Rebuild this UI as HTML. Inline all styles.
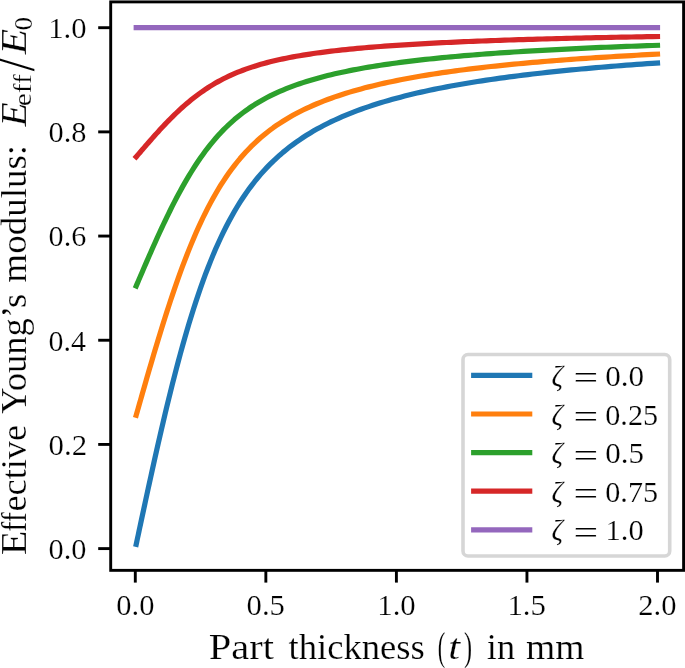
<!DOCTYPE html>
<html lang="en"><head><meta charset="utf-8"><title>Effective Young's modulus vs part thickness</title>
<style>html,body{margin:0;padding:0;background:#fff;overflow:hidden}svg{display:block;will-change:transform}text{font-family:"Liberation Serif","DejaVu Serif",serif;fill:#000}</style></head><body>
<svg width="685" height="668" viewBox="0 0 685 668">
<rect x="0" y="0" width="685" height="668" fill="#fff"/>
<g fill="none" stroke-width="5.2" stroke-linecap="square" stroke-linejoin="round">
<path d="M136.21,544.31 L136.37,543.58 L136.69,542.09 L137.12,540.06 L137.65,537.57 L138.27,534.67 L138.97,531.41 L139.74,527.81 L140.58,523.88 L141.48,519.66 L142.45,515.15 L143.48,510.36 L144.56,505.33 L145.70,500.04 L146.90,494.53 L148.14,488.79 L149.44,482.84 L150.79,476.70 L152.18,470.37 L153.63,463.86 L155.12,457.19 L156.65,450.37 L158.23,443.40 L159.85,436.31 L161.52,429.11 L163.23,421.80 L164.97,414.41 L166.76,406.94 L168.60,399.40 L170.47,391.82 L172.37,384.20 L174.32,376.56 L176.31,368.91 L178.33,361.27 L180.39,353.65 L182.49,346.05 L184.62,338.51 L186.79,331.02 L189.00,323.59 L191.24,316.25 L193.51,309.00 L195.82,301.85 L198.16,294.82 L200.54,287.90 L202.95,281.11 L205.39,274.46 L207.87,267.95 L210.38,261.59 L212.92,255.38 L215.49,249.33 L218.10,243.44 L220.73,237.71 L223.40,232.15 L226.10,226.74 L228.83,221.51 L231.59,216.44 L234.38,211.52 L237.20,206.78 L240.04,202.18 L242.92,197.75 L245.83,193.46 L248.77,189.33 L251.74,185.33 L254.73,181.48 L257.76,177.76 L260.81,174.18 L263.89,170.72 L267.00,167.39 L270.14,164.17 L273.30,161.06 L276.49,158.07 L279.71,155.17 L282.96,152.38 L286.24,149.69 L289.54,147.08 L292.87,144.56 L296.22,142.13 L299.60,139.78 L303.01,137.50 L306.45,135.30 L309.91,133.17 L313.39,131.10 L316.91,129.10 L320.45,127.17 L324.01,125.29 L327.60,123.47 L331.22,121.70 L334.86,119.99 L338.52,118.32 L342.21,116.70 L345.93,115.13 L349.67,113.61 L353.43,112.13 L357.22,110.68 L361.04,109.28 L364.88,107.92 L368.74,106.59 L372.63,105.30 L376.54,104.04 L380.48,102.81 L384.44,101.62 L388.42,100.46 L392.43,99.32 L396.46,98.22 L400.51,97.14 L404.59,96.09 L408.69,95.06 L412.82,94.06 L416.96,93.08 L421.13,92.13 L425.33,91.20 L429.54,90.29 L433.78,89.40 L438.05,88.53 L442.33,87.68 L446.64,86.85 L450.97,86.04 L455.32,85.25 L459.70,84.47 L464.09,83.71 L468.51,82.97 L472.96,82.24 L477.42,81.53 L481.91,80.83 L486.41,80.15 L490.94,79.48 L495.49,78.83 L500.07,78.19 L504.66,77.56 L509.28,76.94 L513.92,76.34 L518.58,75.75 L523.26,75.17 L527.96,74.60 L532.68,74.04 L537.43,73.50 L542.19,72.96 L546.98,72.43 L551.79,71.92 L556.62,71.41 L561.47,70.91 L566.34,70.43 L571.23,69.95 L576.14,69.48 L581.07,69.01 L586.02,68.56 L591.00,68.11 L595.99,67.67 L601.01,67.24 L606.04,66.82 L611.10,66.41 L616.17,66.00 L621.27,65.60 L626.38,65.20 L631.52,64.81 L636.68,64.43 L641.85,64.06 L647.05,63.69 L652.26,63.32 L657.50,62.97" stroke="#1f77b4"/>
<path d="M136.21,415.16 L136.37,414.61 L136.69,413.49 L137.12,411.97 L137.65,410.10 L138.27,407.93 L138.97,405.48 L139.74,402.78 L140.58,399.84 L141.48,396.67 L142.45,393.28 L143.48,389.70 L144.56,385.92 L145.70,381.96 L146.90,377.82 L148.14,373.52 L149.44,369.06 L150.79,364.45 L152.18,359.70 L153.63,354.82 L155.12,349.82 L156.65,344.70 L158.23,339.48 L159.85,334.16 L161.52,328.76 L163.23,323.28 L164.97,317.73 L166.76,312.13 L168.60,306.48 L170.47,300.79 L172.37,295.08 L174.32,289.35 L176.31,283.61 L178.33,277.88 L180.39,272.16 L182.49,266.47 L184.62,260.80 L186.79,255.19 L189.00,249.62 L191.24,244.11 L193.51,238.68 L195.82,233.32 L198.16,228.04 L200.54,222.85 L202.95,217.76 L205.39,212.77 L207.87,207.89 L210.38,203.12 L212.92,198.46 L215.49,193.92 L218.10,189.51 L220.73,185.21 L223.40,181.03 L226.10,176.98 L228.83,173.06 L231.59,169.25 L234.38,165.57 L237.20,162.01 L240.04,158.56 L242.92,155.23 L245.83,152.02 L248.77,148.92 L251.74,145.92 L254.73,143.04 L257.76,140.25 L260.81,137.56 L263.89,134.97 L267.00,132.46 L270.14,130.05 L273.30,127.72 L276.49,125.48 L279.71,123.31 L282.96,121.21 L286.24,119.19 L289.54,117.24 L292.87,115.35 L296.22,113.52 L299.60,111.76 L303.01,110.05 L306.45,108.40 L309.91,106.80 L313.39,105.25 L316.91,103.75 L320.45,102.30 L324.01,100.89 L327.60,99.53 L331.22,98.20 L334.86,96.91 L338.52,95.67 L342.21,94.45 L345.93,93.28 L349.67,92.13 L353.43,91.02 L357.22,89.94 L361.04,88.89 L364.88,87.86 L368.74,86.87 L372.63,85.90 L376.54,84.95 L380.48,84.04 L384.44,83.14 L388.42,82.27 L392.43,81.42 L396.46,80.59 L400.51,79.78 L404.59,78.99 L408.69,78.22 L412.82,77.47 L416.96,76.74 L421.13,76.02 L425.33,75.32 L429.54,74.64 L433.78,73.97 L438.05,73.32 L442.33,72.69 L446.64,72.06 L450.97,71.45 L455.32,70.86 L459.70,70.28 L464.09,69.71 L468.51,69.15 L472.96,68.61 L477.42,68.07 L481.91,67.55 L486.41,67.04 L490.94,66.54 L495.49,66.05 L500.07,65.57 L504.66,65.09 L509.28,64.63 L513.92,64.18 L518.58,63.74 L523.26,63.30 L527.96,62.88 L532.68,62.46 L537.43,62.05 L542.19,61.65 L546.98,61.25 L551.79,60.86 L556.62,60.48 L561.47,60.11 L566.34,59.74 L571.23,59.38 L576.14,59.03 L581.07,58.68 L586.02,58.34 L591.00,58.01 L595.99,57.68 L601.01,57.36 L606.04,57.04 L611.10,56.73 L616.17,56.42 L621.27,56.12 L626.38,55.83 L631.52,55.53 L636.68,55.25 L641.85,54.97 L647.05,54.69 L652.26,54.42 L657.50,54.15" stroke="#ff7f0e"/>
<path d="M136.21,286.01 L136.37,285.64 L136.69,284.89 L137.12,283.88 L137.65,282.63 L138.27,281.19 L138.97,279.56 L139.74,277.75 L140.58,275.79 L141.48,273.68 L142.45,271.42 L143.48,269.03 L144.56,266.51 L145.70,263.87 L146.90,261.11 L148.14,258.24 L149.44,255.27 L150.79,252.20 L152.18,249.03 L153.63,245.78 L155.12,242.44 L156.65,239.03 L158.23,235.55 L159.85,232.01 L161.52,228.40 L163.23,224.75 L164.97,221.05 L166.76,217.32 L168.60,213.55 L170.47,209.76 L172.37,205.95 L174.32,202.13 L176.31,198.31 L178.33,194.49 L180.39,190.67 L182.49,186.88 L184.62,183.10 L186.79,179.36 L189.00,175.65 L191.24,171.98 L193.51,168.35 L195.82,164.78 L198.16,161.26 L200.54,157.80 L202.95,154.41 L205.39,151.08 L207.87,147.83 L210.38,144.65 L212.92,141.54 L215.49,138.52 L218.10,135.57 L220.73,132.71 L223.40,129.92 L226.10,127.22 L228.83,124.60 L231.59,122.07 L234.38,119.61 L237.20,117.24 L240.04,114.94 L242.92,112.72 L245.83,110.58 L248.77,108.51 L251.74,106.52 L254.73,104.59 L257.76,102.73 L260.81,100.94 L263.89,99.21 L267.00,97.54 L270.14,95.93 L273.30,94.38 L276.49,92.88 L279.71,91.44 L282.96,90.04 L286.24,88.69 L289.54,87.39 L292.87,86.13 L296.22,84.92 L299.60,83.74 L303.01,82.60 L306.45,81.50 L309.91,80.43 L313.39,79.40 L316.91,78.40 L320.45,77.43 L324.01,76.49 L327.60,75.58 L331.22,74.70 L334.86,73.84 L338.52,73.01 L342.21,72.20 L345.93,71.42 L349.67,70.65 L353.43,69.91 L357.22,69.19 L361.04,68.49 L364.88,67.81 L368.74,67.14 L372.63,66.50 L376.54,65.87 L380.48,65.26 L384.44,64.66 L388.42,64.08 L392.43,63.51 L396.46,62.96 L400.51,62.42 L404.59,61.89 L408.69,61.38 L412.82,60.88 L416.96,60.39 L421.13,59.91 L425.33,59.45 L429.54,58.99 L433.78,58.55 L438.05,58.12 L442.33,57.69 L446.64,57.28 L450.97,56.87 L455.32,56.47 L459.70,56.09 L464.09,55.71 L468.51,55.33 L472.96,54.97 L477.42,54.61 L481.91,54.27 L486.41,53.93 L490.94,53.59 L495.49,53.26 L500.07,52.94 L504.66,52.63 L509.28,52.32 L513.92,52.02 L518.58,51.72 L523.26,51.43 L527.96,51.15 L532.68,50.87 L537.43,50.60 L542.19,50.33 L546.98,50.07 L551.79,49.81 L556.62,49.56 L561.47,49.31 L566.34,49.06 L571.23,48.82 L576.14,48.59 L581.07,48.36 L586.02,48.13 L591.00,47.91 L595.99,47.69 L601.01,47.47 L606.04,47.26 L611.10,47.05 L616.17,46.85 L621.27,46.65 L626.38,46.45 L631.52,46.26 L636.68,46.07 L641.85,45.88 L647.05,45.69 L652.26,45.51 L657.50,45.33" stroke="#2ca02c"/>
<path d="M136.21,156.85 L136.37,156.67 L136.69,156.30 L137.12,155.79 L137.65,155.17 L138.27,154.44 L138.97,153.63 L139.74,152.73 L140.58,151.75 L141.48,150.69 L142.45,149.56 L143.48,148.37 L144.56,147.11 L145.70,145.79 L146.90,144.41 L148.14,142.97 L149.44,141.49 L150.79,139.95 L152.18,138.37 L153.63,136.74 L155.12,135.07 L156.65,133.37 L158.23,131.63 L159.85,129.85 L161.52,128.05 L163.23,126.23 L164.97,124.38 L166.76,122.51 L168.60,120.63 L170.47,118.73 L172.37,116.83 L174.32,114.92 L176.31,113.00 L178.33,111.09 L180.39,109.19 L182.49,107.29 L184.62,105.40 L186.79,103.53 L189.00,101.67 L191.24,99.84 L193.51,98.03 L195.82,96.24 L198.16,94.48 L200.54,92.75 L202.95,91.05 L205.39,89.39 L207.87,87.76 L210.38,86.17 L212.92,84.62 L215.49,83.11 L218.10,81.64 L220.73,80.20 L223.40,78.81 L226.10,77.46 L228.83,76.15 L231.59,74.88 L234.38,73.66 L237.20,72.47 L240.04,71.32 L242.92,70.21 L245.83,69.14 L248.77,68.11 L251.74,67.11 L254.73,66.15 L257.76,65.22 L260.81,64.32 L263.89,63.46 L267.00,62.62 L270.14,61.82 L273.30,61.04 L276.49,60.29 L279.71,59.57 L282.96,58.87 L286.24,58.20 L289.54,57.55 L292.87,56.92 L296.22,56.31 L299.60,55.72 L303.01,55.15 L306.45,54.60 L309.91,54.07 L313.39,53.55 L316.91,53.05 L320.45,52.57 L324.01,52.10 L327.60,51.64 L331.22,51.20 L334.86,50.77 L338.52,50.36 L342.21,49.95 L345.93,49.56 L349.67,49.18 L353.43,48.81 L357.22,48.45 L361.04,48.10 L364.88,47.75 L368.74,47.42 L372.63,47.10 L376.54,46.78 L380.48,46.48 L384.44,46.18 L388.42,45.89 L392.43,45.61 L396.46,45.33 L400.51,45.06 L404.59,44.80 L408.69,44.54 L412.82,44.29 L416.96,44.05 L421.13,43.81 L425.33,43.57 L429.54,43.35 L433.78,43.12 L438.05,42.91 L442.33,42.70 L446.64,42.49 L450.97,42.28 L455.32,42.09 L459.70,41.89 L464.09,41.70 L468.51,41.52 L472.96,41.34 L477.42,41.16 L481.91,40.98 L486.41,40.81 L490.94,40.65 L495.49,40.48 L500.07,40.32 L504.66,40.16 L509.28,40.01 L513.92,39.86 L518.58,39.71 L523.26,39.57 L527.96,39.43 L532.68,39.29 L537.43,39.15 L542.19,39.02 L546.98,38.88 L551.79,38.75 L556.62,38.63 L561.47,38.50 L566.34,38.38 L571.23,38.26 L576.14,38.14 L581.07,38.03 L586.02,37.91 L591.00,37.80 L595.99,37.69 L601.01,37.59 L606.04,37.48 L611.10,37.38 L616.17,37.27 L621.27,37.17 L626.38,37.08 L631.52,36.98 L636.68,36.88 L641.85,36.79 L647.05,36.70 L652.26,36.61 L657.50,36.52" stroke="#d62728"/>
<path d="M136.21,27.70 L136.37,27.70 L136.69,27.70 L137.12,27.70 L137.65,27.70 L138.27,27.70 L138.97,27.70 L139.74,27.70 L140.58,27.70 L141.48,27.70 L142.45,27.70 L143.48,27.70 L144.56,27.70 L145.70,27.70 L146.90,27.70 L148.14,27.70 L149.44,27.70 L150.79,27.70 L152.18,27.70 L153.63,27.70 L155.12,27.70 L156.65,27.70 L158.23,27.70 L159.85,27.70 L161.52,27.70 L163.23,27.70 L164.97,27.70 L166.76,27.70 L168.60,27.70 L170.47,27.70 L172.37,27.70 L174.32,27.70 L176.31,27.70 L178.33,27.70 L180.39,27.70 L182.49,27.70 L184.62,27.70 L186.79,27.70 L189.00,27.70 L191.24,27.70 L193.51,27.70 L195.82,27.70 L198.16,27.70 L200.54,27.70 L202.95,27.70 L205.39,27.70 L207.87,27.70 L210.38,27.70 L212.92,27.70 L215.49,27.70 L218.10,27.70 L220.73,27.70 L223.40,27.70 L226.10,27.70 L228.83,27.70 L231.59,27.70 L234.38,27.70 L237.20,27.70 L240.04,27.70 L242.92,27.70 L245.83,27.70 L248.77,27.70 L251.74,27.70 L254.73,27.70 L257.76,27.70 L260.81,27.70 L263.89,27.70 L267.00,27.70 L270.14,27.70 L273.30,27.70 L276.49,27.70 L279.71,27.70 L282.96,27.70 L286.24,27.70 L289.54,27.70 L292.87,27.70 L296.22,27.70 L299.60,27.70 L303.01,27.70 L306.45,27.70 L309.91,27.70 L313.39,27.70 L316.91,27.70 L320.45,27.70 L324.01,27.70 L327.60,27.70 L331.22,27.70 L334.86,27.70 L338.52,27.70 L342.21,27.70 L345.93,27.70 L349.67,27.70 L353.43,27.70 L357.22,27.70 L361.04,27.70 L364.88,27.70 L368.74,27.70 L372.63,27.70 L376.54,27.70 L380.48,27.70 L384.44,27.70 L388.42,27.70 L392.43,27.70 L396.46,27.70 L400.51,27.70 L404.59,27.70 L408.69,27.70 L412.82,27.70 L416.96,27.70 L421.13,27.70 L425.33,27.70 L429.54,27.70 L433.78,27.70 L438.05,27.70 L442.33,27.70 L446.64,27.70 L450.97,27.70 L455.32,27.70 L459.70,27.70 L464.09,27.70 L468.51,27.70 L472.96,27.70 L477.42,27.70 L481.91,27.70 L486.41,27.70 L490.94,27.70 L495.49,27.70 L500.07,27.70 L504.66,27.70 L509.28,27.70 L513.92,27.70 L518.58,27.70 L523.26,27.70 L527.96,27.70 L532.68,27.70 L537.43,27.70 L542.19,27.70 L546.98,27.70 L551.79,27.70 L556.62,27.70 L561.47,27.70 L566.34,27.70 L571.23,27.70 L576.14,27.70 L581.07,27.70 L586.02,27.70 L591.00,27.70 L595.99,27.70 L601.01,27.70 L606.04,27.70 L611.10,27.70 L616.17,27.70 L621.27,27.70 L626.38,27.70 L631.52,27.70 L636.68,27.70 L641.85,27.70 L647.05,27.70 L652.26,27.70 L657.50,27.70" stroke="#9467bd"/>
</g>
<g stroke="#000" stroke-width="2.9" fill="none">
<line x1="135.30" y1="570.35" x2="135.30" y2="582.6"/>
<line x1="265.85" y1="570.35" x2="265.85" y2="582.6"/>
<line x1="396.40" y1="570.35" x2="396.40" y2="582.6"/>
<line x1="526.95" y1="570.35" x2="526.95" y2="582.6"/>
<line x1="657.50" y1="570.35" x2="657.50" y2="582.6"/>
<line x1="110.7" y1="548.60" x2="98.2" y2="548.60"/>
<line x1="110.7" y1="444.42" x2="98.2" y2="444.42"/>
<line x1="110.7" y1="340.24" x2="98.2" y2="340.24"/>
<line x1="110.7" y1="236.06" x2="98.2" y2="236.06"/>
<line x1="110.7" y1="131.88" x2="98.2" y2="131.88"/>
<line x1="110.7" y1="27.70" x2="98.2" y2="27.70"/>
<rect x="110.7" y="1.9" width="572.90" height="568.45" stroke-linejoin="miter"/>
</g>
<rect x="463" y="354.5" width="206.7" height="201.5" rx="5" ry="5" fill="#fff" fill-opacity="0.8" stroke="#d6d6d6" stroke-width="3.6"/>
<line x1="471.1" y1="375.40" x2="532.3" y2="375.40" stroke="#1f77b4" stroke-width="5.2"/>
<line x1="471.1" y1="414.00" x2="532.3" y2="414.00" stroke="#ff7f0e" stroke-width="5.2"/>
<line x1="471.1" y1="452.60" x2="532.3" y2="452.60" stroke="#2ca02c" stroke-width="5.2"/>
<line x1="471.1" y1="491.20" x2="532.3" y2="491.20" stroke="#d62728" stroke-width="5.2"/>
<line x1="471.1" y1="529.80" x2="532.3" y2="529.80" stroke="#9467bd" stroke-width="5.2"/>
<g opacity="0.999" stroke="#fff" stroke-width="0.2">
<text opacity="0.999"><tspan x="116.37" y="614.60" font-size="29.6" textLength="38.16" lengthAdjust="spacingAndGlyphs">0.0</tspan></text>
<text opacity="0.999"><tspan x="246.56" y="614.60" font-size="29.6" textLength="38.33" lengthAdjust="spacingAndGlyphs">0.5</tspan></text>
<text opacity="0.999"><tspan x="377.30" y="614.60" font-size="29.6" textLength="38.44" lengthAdjust="spacingAndGlyphs">1.0</tspan></text>
<text opacity="0.999"><tspan x="507.40" y="614.60" font-size="29.6" textLength="38.50" lengthAdjust="spacingAndGlyphs">1.5</tspan></text>
<text opacity="0.999"><tspan x="638.31" y="614.60" font-size="29.6" textLength="38.22" lengthAdjust="spacingAndGlyphs">2.0</tspan></text>
<text opacity="0.999"><tspan x="48.57" y="559.00" font-size="29.6" textLength="37.95" lengthAdjust="spacingAndGlyphs">0.0</tspan></text>
<text opacity="0.999"><tspan x="48.56" y="454.82" font-size="29.6" textLength="38.50" lengthAdjust="spacingAndGlyphs">0.2</tspan></text>
<text opacity="0.999"><tspan x="48.59" y="350.64" font-size="29.6" textLength="37.42" lengthAdjust="spacingAndGlyphs">0.4</tspan></text>
<text opacity="0.999"><tspan x="48.58" y="246.46" font-size="29.6" textLength="37.68" lengthAdjust="spacingAndGlyphs">0.6</tspan></text>
<text opacity="0.999"><tspan x="48.57" y="142.28" font-size="29.6" textLength="37.95" lengthAdjust="spacingAndGlyphs">0.8</tspan></text>
<text opacity="0.999"><tspan x="48.21" y="38.10" font-size="29.6" textLength="38.33" lengthAdjust="spacingAndGlyphs">1.0</tspan></text>
<text opacity="0.999"><tspan x="208.69" y="658.90" font-size="36.5" textLength="65.24" lengthAdjust="spacingAndGlyphs">Part</tspan> <tspan x="288.55" y="658.90" font-size="36.5" textLength="136.20" lengthAdjust="spacingAndGlyphs">thickness</tspan> <tspan x="437.70" y="659.60" font-size="39.3" textLength="7.46" lengthAdjust="spacingAndGlyphs">(</tspan><tspan x="448.15" y="658.90" font-size="36.5" font-style="italic" textLength="11.87" lengthAdjust="spacingAndGlyphs">t</tspan><tspan x="463.93" y="659.60" font-size="39.3" textLength="8.05" lengthAdjust="spacingAndGlyphs">)</tspan> <tspan x="486.86" y="658.90" font-size="36.5" textLength="28.20" lengthAdjust="spacingAndGlyphs">in</tspan> <tspan x="526.03" y="658.90" font-size="36.5" textLength="58.43" lengthAdjust="spacingAndGlyphs">mm</tspan></text>
<text opacity="0.999" transform="rotate(-90)"><tspan x="-555.21" y="25.70" font-size="36.5" textLength="24.70" lengthAdjust="spacingAndGlyphs">E</tspan><tspan x="-531.73" y="25.70" font-size="36.5" textLength="19.65" lengthAdjust="spacingAndGlyphs">ff</tspan><tspan x="-511.49" y="25.70" font-size="36.5" textLength="86.52" lengthAdjust="spacingAndGlyphs">ective</tspan> <tspan x="-414.00" y="25.70" font-size="36.5" textLength="120.32" lengthAdjust="spacingAndGlyphs">Young’s</tspan> <tspan x="-282.66" y="25.70" font-size="36.5" textLength="137.79" lengthAdjust="spacingAndGlyphs">modulus:</tspan> <tspan x="-126.46" y="25.70" font-size="36.5" font-style="italic" textLength="24.15" lengthAdjust="spacingAndGlyphs">E</tspan><tspan x="-106.33" y="31.40" font-size="26" textLength="32.11" lengthAdjust="spacingAndGlyphs">eff</tspan><tspan x="-71.30" y="33.90" font-size="52.7" textLength="13.00" lengthAdjust="spacingAndGlyphs">/</tspan><tspan x="-54.42" y="25.70" font-size="36.5" font-style="italic" textLength="25.65" lengthAdjust="spacingAndGlyphs">E</tspan><tspan x="-30.47" y="31.60" font-size="25.4" textLength="13.59" lengthAdjust="spacingAndGlyphs">0</tspan></text>
<text opacity="0.999"><tspan x="551.60" y="386.00" font-size="28.5" font-style="italic" textLength="11.59" lengthAdjust="spacingAndGlyphs">ζ</tspan> <tspan x="573.64" y="389.30" font-size="34" textLength="24.73" lengthAdjust="spacingAndGlyphs">=</tspan> <tspan x="605.25" y="386.00" font-size="29.6" textLength="38.90" lengthAdjust="spacingAndGlyphs">0.0</tspan></text>
<text opacity="0.999"><tspan x="551.60" y="424.60" font-size="28.5" font-style="italic" textLength="11.59" lengthAdjust="spacingAndGlyphs">ζ</tspan> <tspan x="573.64" y="427.90" font-size="34" textLength="24.73" lengthAdjust="spacingAndGlyphs">=</tspan> <tspan x="605.28" y="424.60" font-size="29.6" textLength="52.79" lengthAdjust="spacingAndGlyphs">0.25</tspan></text>
<text opacity="0.999"><tspan x="551.60" y="463.20" font-size="28.5" font-style="italic" textLength="11.59" lengthAdjust="spacingAndGlyphs">ζ</tspan> <tspan x="573.64" y="466.50" font-size="34" textLength="24.73" lengthAdjust="spacingAndGlyphs">=</tspan> <tspan x="605.25" y="463.20" font-size="29.6" textLength="38.76" lengthAdjust="spacingAndGlyphs">0.5</tspan></text>
<text opacity="0.999"><tspan x="551.60" y="501.80" font-size="28.5" font-style="italic" textLength="11.59" lengthAdjust="spacingAndGlyphs">ζ</tspan> <tspan x="573.64" y="505.10" font-size="34" textLength="24.73" lengthAdjust="spacingAndGlyphs">=</tspan> <tspan x="605.28" y="501.80" font-size="29.6" textLength="52.79" lengthAdjust="spacingAndGlyphs">0.75</tspan></text>
<text opacity="0.999"><tspan x="551.60" y="540.40" font-size="28.5" font-style="italic" textLength="11.59" lengthAdjust="spacingAndGlyphs">ζ</tspan> <tspan x="573.64" y="543.70" font-size="34" textLength="24.73" lengthAdjust="spacingAndGlyphs">=</tspan> <tspan x="605.63" y="540.40" font-size="29.6" textLength="38.10" lengthAdjust="spacingAndGlyphs">1.0</tspan></text>
</g>
</svg></body></html>
